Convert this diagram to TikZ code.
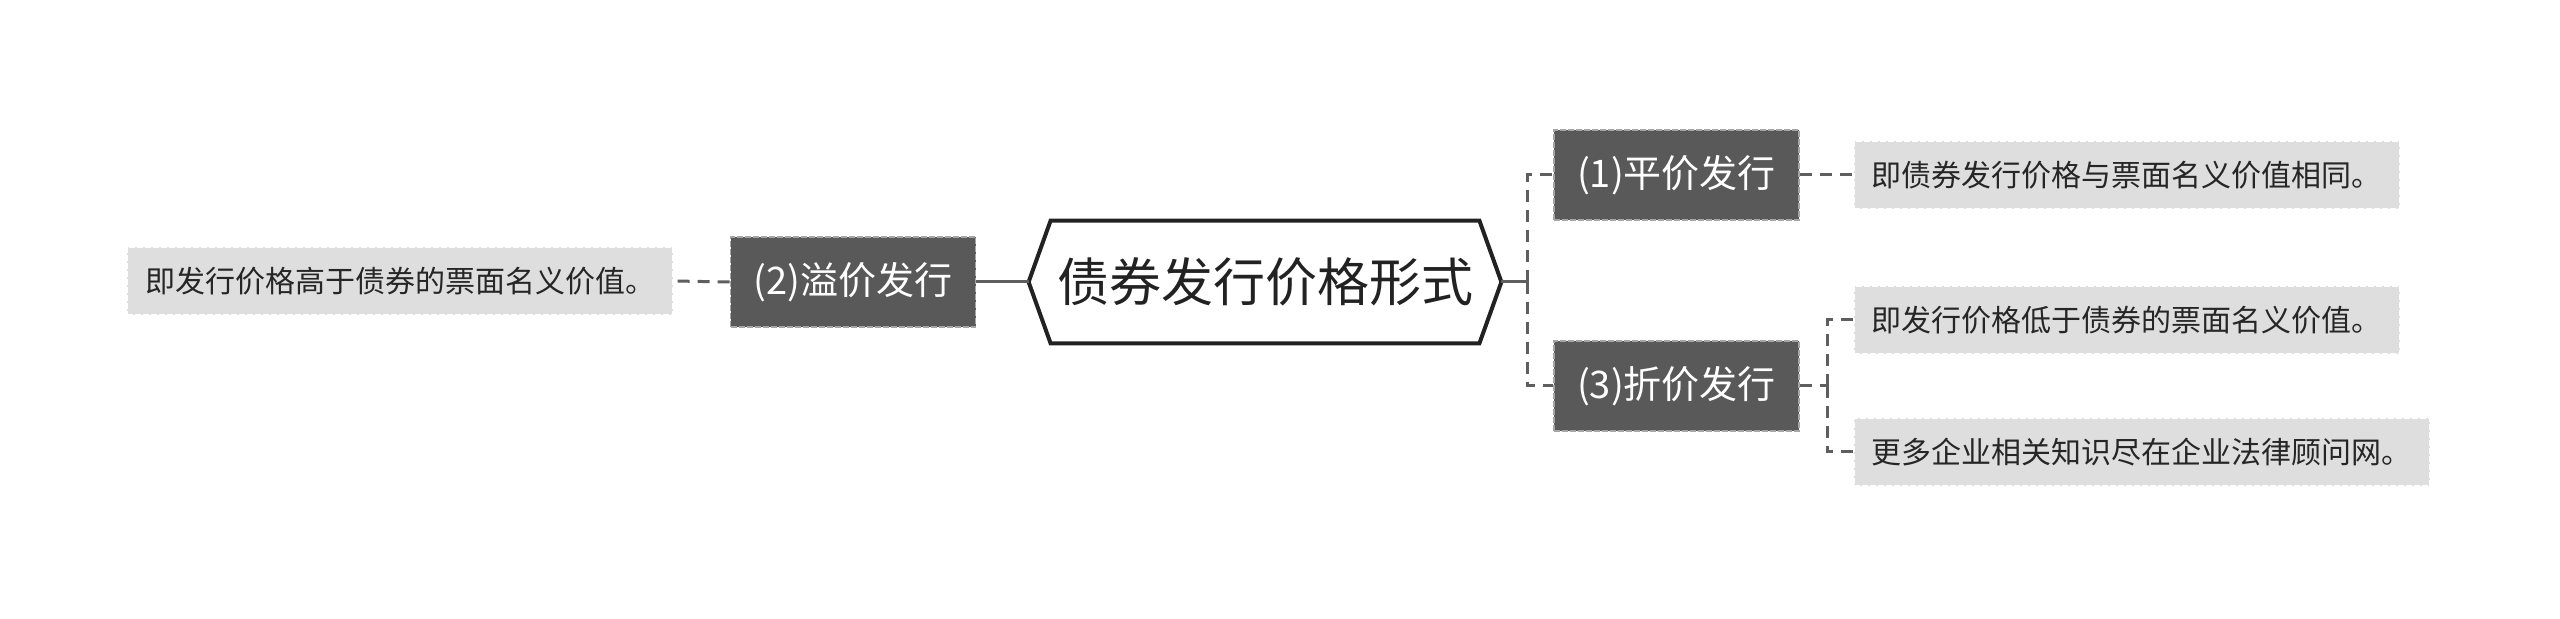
\documentclass[tikz,border=0pt]{standalone}
\usepackage{fontspec}
\setmainfont{Noto Sans CJK SC}
\usetikzlibrary{calc}
\definecolor{darkbox}{HTML}{595959}
\definecolor{leafbox}{HTML}{DEDEDE}
\definecolor{conn}{HTML}{5E5E5E}
\definecolor{hexline}{HTML}{222222}
\tikzset{
  px/.style={x=0.5pt,y=-0.5pt},
  centerbox/.style={inner sep=0pt, minimum width=214pt, minimum height=61pt, font=\fontsize{26pt}{30pt}\selectfont, text=hexline},
  darkbox/.style={fill=darkbox, draw=gray!70, dash pattern=on 3pt off 1pt, line width=0.8pt, text=white, minimum width=122.5pt, minimum height=45pt, inner sep=0pt, font=\fontsize{19pt}{22pt}\selectfont},
  leafbox/.style={fill=leafbox, draw=white, dash pattern=on 3pt off 1pt, line width=0.8pt, text=black!85, minimum height=34pt, inner xsep=9pt, inner ysep=0pt, font=\fontsize{15pt}{18pt}\selectfont},
  dconn/.style={draw=conn, line width=1.5pt, dash pattern=on 6pt off 4pt},
  sconn/.style={draw=conn, line width=1.5pt},
}
\begin{document}
\begin{tikzpicture}[px]
\useasboundingbox (0,0) rectangle (2560,619);
\fill[white] (0,0) rectangle (2560,619);
% center
\node[centerbox] (c) at (1265,282) {债券发行价格形式};
\coordinate (cl) at ($(c.west)+(-11pt,0)$);
\coordinate (cr) at ($(c.east)+(11pt,0)$);
\draw[hexline, line width=2pt, fill=white, line join=miter] (cl) -- (c.north west) -- (c.north east) -- (cr) -- (c.south east) -- (c.south west) -- cycle;
\node[centerbox] at (c) {债券发行价格形式};
% branches
\node[darkbox] (n1) at (1676.5,175) {(1)平价发行};
\node[darkbox] (n3) at (1676.5,386) {(3)折价发行};
\node[darkbox] (n2) at (853,282) {(2)溢价发行};
% leaves
\node[leafbox, anchor=west] (l1) at (1853,175) {即债券发行价格与票面名义价值相同。};
\node[leafbox, anchor=west] (l31) at (1853,320) {即发行价格低于债券的票面名义价值。};
\node[leafbox, anchor=west] (l32) at (1853,452) {更多企业相关知识尽在企业法律顾问网。};
\node[leafbox, anchor=east] (l2) at (674,281) {即发行价格高于债券的票面名义价值。};
% junctions
\coordinate (j1) at (1527,282);
\coordinate (j3) at (1827,386);
% connectors
\draw[sconn] (n2.east) -- (cl);
\draw[sconn] (cr) -- (j1);
\draw[dconn] (j1) |- (n1.west);
\draw[dconn] (j1) |- (n3.west);
\draw[dconn] (n1.east) -- (l1.west);
\draw[dconn] (n3.east) -- (j3);
\draw[dconn] (j3) |- (l31.west);
\draw[dconn] (j3) |- (l32.west);
\draw[dconn] (n2.west) -- (l2.east);
\end{tikzpicture}
\end{document}
